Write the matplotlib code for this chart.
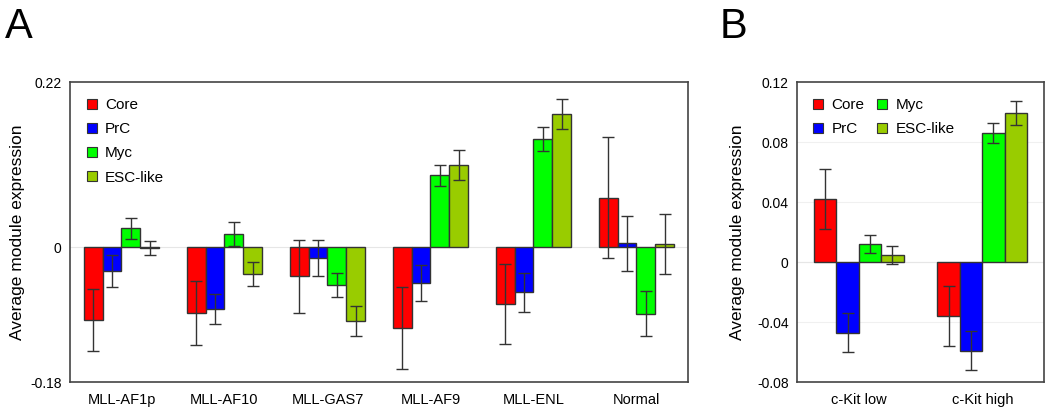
import matplotlib
matplotlib.use("Agg")
import matplotlib.pyplot as plt
import numpy as np
from matplotlib.patches import Patch

plt.rcParams['font.family'] = ['Liberation Sans', 'DejaVu Sans']

series = ["Core", "PrC", "Myc", "ESC-like"]
colors = ["#ff0000", "#0000ff", "#00ff00", "#99cc00"]

# Panel A
cats_a = ["MLL-AF1p", "MLL-AF10", "MLL-GAS7", "MLL-AF9", "MLL-ENL", "Normal"]
vals_a = {
    "Core":     [-0.097, -0.088, -0.039, -0.108, -0.076, 0.066],
    "PrC":      [-0.032, -0.083, -0.015, -0.048, -0.060, 0.005],
    "Myc":      [0.025, 0.018, -0.050, 0.096, 0.144, -0.089],
    "ESC-like": [-0.001, -0.036, -0.099, 0.110, 0.177, 0.004],
}
err_a = {
    "Core":     [0.041, 0.043, 0.049, 0.055, 0.053, 0.080],
    "PrC":      [0.021, 0.020, 0.024, 0.024, 0.026, 0.037],
    "Myc":      [0.014, 0.016, 0.016, 0.014, 0.016, 0.030],
    "ESC-like": [0.009, 0.016, 0.020, 0.020, 0.020, 0.040],
}
yticks_a = [-0.18, 0, 0.22]
yticklabels_a = ["-0.18", "0", "0.22"]

# Panel B
cats_b = ["c-Kit low", "c-Kit high"]
vals_b = {
    "Core":     [0.042, -0.036],
    "PrC":      [-0.047, -0.059],
    "Myc":      [0.012, 0.086],
    "ESC-like": [0.005, 0.099],
}
err_b = {
    "Core":     [0.020, 0.020],
    "PrC":      [0.013, 0.013],
    "Myc":      [0.0057, 0.0066],
    "ESC-like": [0.006, 0.008],
}
yticks_b = [-0.08, -0.04, 0, 0.04, 0.08, 0.12]
yticklabels_b = ["-0.08", "-0.04", "0", "0.04", "0.08", "0.12"]

fig = plt.figure(figsize=(10.5, 4.11), dpi=100)
axA = fig.add_axes([70/1050, 29/411, 618/1050, 300/411])
axB = fig.add_axes([797/1050, 29/411, 247/1050, 300/411])

w = 0.182

def draw(ax, cats, vals, errs, ylim, yticks, yticklabels):
    x = np.arange(len(cats))
    for i, s in enumerate(series):
        pos = x + (i - 1.5) * w
        ax.bar(pos, vals[s], width=w, color=colors[i], edgecolor="#333333",
               linewidth=1.0, zorder=3, label=s)
        ax.errorbar(pos, vals[s], yerr=errs[s], fmt="none", ecolor="#333333",
                    elinewidth=1.0, capsize=4.5, capthick=1.0, zorder=4)
    ax.set_xlim(-0.5, len(cats) - 0.5)
    ax.set_ylim(*ylim)
    ax.set_xticks(x)
    ax.set_xticklabels(cats, fontsize=10.5)
    ax.set_yticks(yticks)
    ax.set_yticklabels(yticklabels, fontsize=10)
    ax.tick_params(axis='y', length=0, pad=6)
    ax.tick_params(axis='x', length=0, pad=8)
    ax.axhline(0, color="#e6e6e6", linewidth=0.8, zorder=1)
    for sp in ax.spines.values():
        sp.set_color("#444444")
        sp.set_linewidth(1.2)
    ax.set_ylabel("Average module expression", fontsize=12.5)

draw(axA, cats_a, vals_a, err_a, (-0.18, 0.22), yticks_a, yticklabels_a)
draw(axB, cats_b, vals_b, err_b, (-0.08, 0.12), yticks_b, yticklabels_b)
for yv in yticks_b[1:-1]:
    axB.axhline(yv, color="#f0f0f0", linewidth=0.8, zorder=0)

axA.yaxis.set_label_coords(-0.073, 0.5)
axB.yaxis.set_label_coords(-0.21, 0.5)

handles = [Patch(facecolor=c, edgecolor="#333333", linewidth=0.8) for c in colors]
axA.legend(handles, series, loc="upper left", bbox_to_anchor=(-0.005, 1.012),
           frameon=False, fontsize=11, handlelength=0.65, handleheight=0.65,
           labelspacing=0.66, handletextpad=0.55, borderaxespad=0.9)
axB.legend(handles, series, loc="upper left", bbox_to_anchor=(-0.015, 1.012),
           frameon=False, fontsize=11, handlelength=0.65, handleheight=0.65,
           labelspacing=0.66, handletextpad=0.55, borderaxespad=0.9,
           ncol=2, columnspacing=0.85)

fig.text(5/1050, 1 - 38/411, "A", fontsize=30)
fig.text(720/1050, 1 - 38/411, "B", fontsize=30)

fig.savefig("out.png", dpi=100)
